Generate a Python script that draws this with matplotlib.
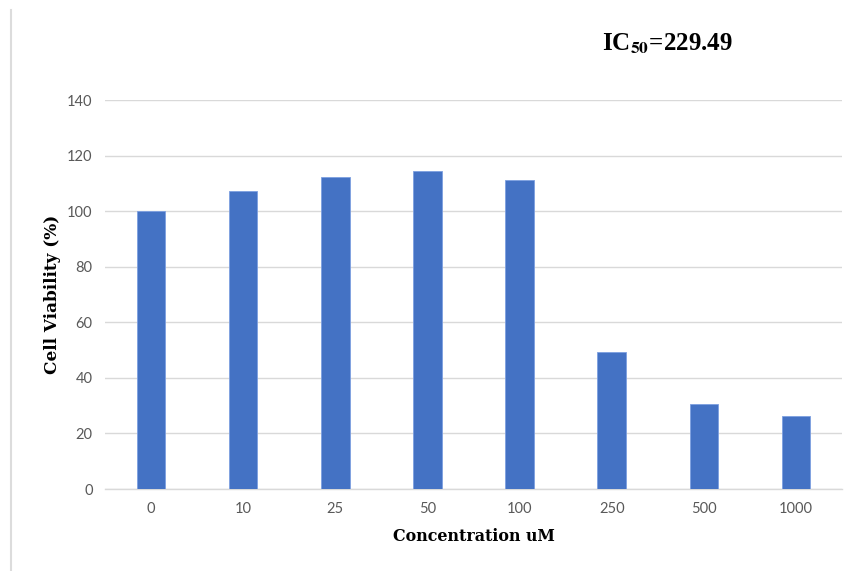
import numpy as np
import matplotlib.pyplot as plt
from matplotlib.lines import Line2D

# cell viability after 24 h exposure, % of untreated control
concentrations = ['0', '10', '25', '50', '100', '250', '500', '1000']
viability = [100.0, 107.2, 112.4, 114.4, 111.3, 49.2, 30.5, 26.4]
y_ticks = [0, 20, 40, 60, 80, 100, 120, 140]
ic50 = 229.49

plt.rcParams['mathtext.fontset'] = 'stix'

fig = plt.figure(figsize=(8.51, 5.71), dpi=100)
ax = fig.add_axes([0.1234, 0.1436, 0.866, 0.681])

x = np.arange(len(concentrations))
ax.bar(x, viability, width=0.31, color='#4472C4', edgecolor='#7d9fe0', linewidth=0.6, zorder=3)

ax.set_xlim(-0.5, len(concentrations) - 0.5)
ax.set_ylim(0, 140)
ax.set_yticks(y_ticks)
ax.set_xticks(x)
ax.set_xticklabels(concentrations)
ax.grid(axis='y', color='#d9d9d9', linewidth=1.0, zorder=0)
ax.tick_params(length=0, labelsize=10.5, labelcolor='#595959', pad=9)
for lbl in ax.get_xticklabels() + ax.get_yticklabels():
    lbl.set_family('Lato')

for side in ['left', 'right', 'top']:
    ax.spines[side].set_visible(False)
ax.spines['bottom'].set_color('#d9d9d9')
ax.spines['bottom'].set_linewidth(1.0)

ax.set_xlabel('Concentration uM', fontfamily='DejaVu Serif', fontweight='bold', fontsize=11.4, labelpad=9)
ax.set_ylabel('Cell Viability (%)', fontfamily='DejaVu Serif', fontweight='bold', fontsize=12.2, labelpad=4)

fig.text(0.784, 0.912, r'IC$_{\mathbf{50}}$=' + f'{ic50:.2f}', fontfamily='Liberation Serif',
         fontweight='bold', fontsize=18, ha='center', va='baseline')

# thin frame line on the left edge
fig.add_artist(Line2D([0.0125, 0.0125], [0.0, 0.983], color='#dcdcdc', linewidth=1.5))

fig.savefig('out.png', dpi=100)
